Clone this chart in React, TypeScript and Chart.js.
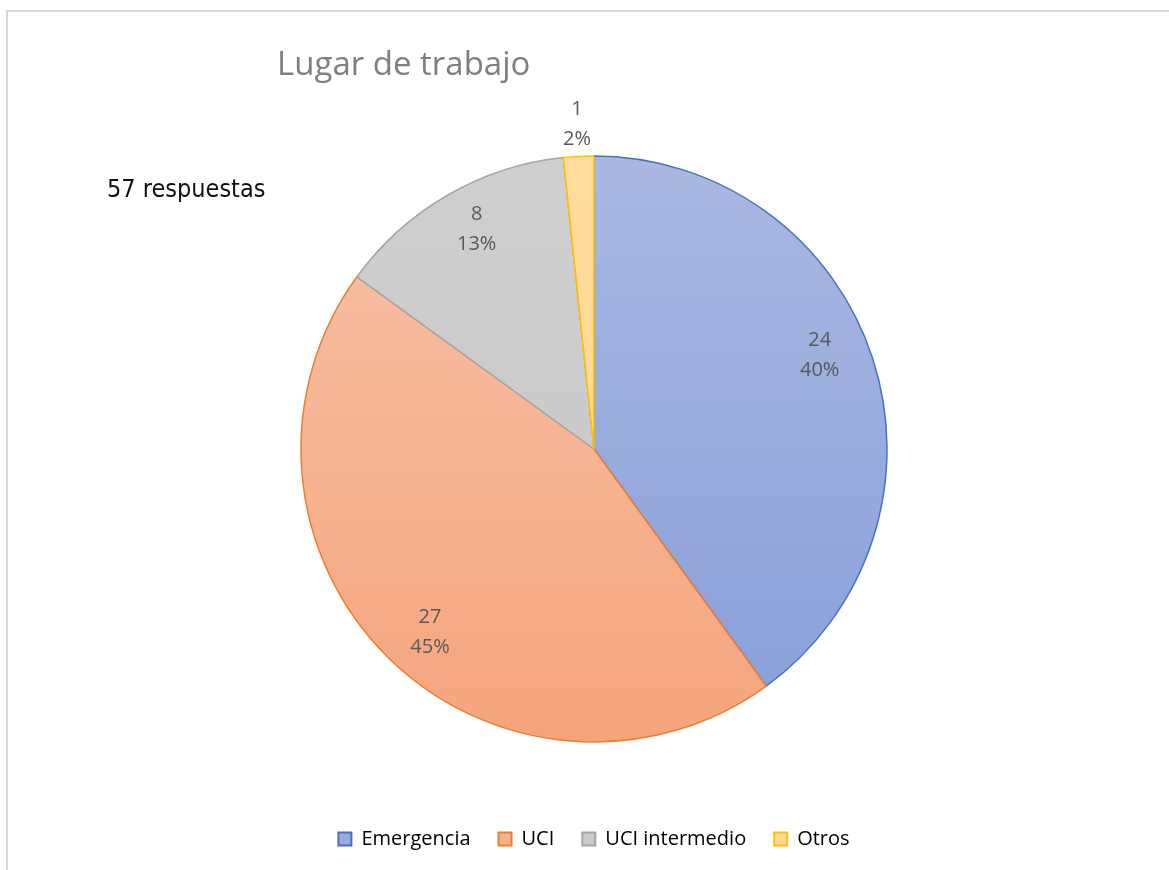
import React, { useEffect, useRef } from "react";
import { Chart, registerables } from "chart.js";

Chart.register(...registerables);

const categories = ["Emergencia", "UCI", "UCI intermedio", "Otros"];
const counts = [24, 27, 8, 1];
const percentLabels = ["40%", "45%", "13%", "2%"];
const chartTitle = "Lugar de trabajo";
const subtitle = "57 respuestas";

const topColors = ["#aab8e1", "#f8c2aa", "#cfcfcf", "#ffdc9c"];
const bottomColors = ["#889fda", "#f5a57c", "#c6c6c6", "#ffd68a"];
const solidColors = ["#9aabdd", "#f6b393", "#cbcbcb", "#ffd993"];
const borderColors = ["#4472c4", "#ed7d31", "#a5a5a5", "#ffc000"];

const labelNudges = [
  [-7, -18],
  [9, 10],
  [5, -8],
  [0, 0],
];

const labelPlugin = {
  id: "sliceLabels",
  afterDatasetsDraw(chart: any) {
    const ctx = chart.ctx;
    const meta = chart.getDatasetMeta(0);
    const total = counts.reduce((a, b) => a + b, 0);
    ctx.save();
    ctx.fillStyle = "#595959";
    ctx.font = "20px 'Open Sans', 'Noto Sans', sans-serif";
    ctx.textAlign = "center";
    ctx.textBaseline = "middle";
    meta.data.forEach((arc: any, i: number) => {
      const p = arc.getProps(["x", "y", "startAngle", "endAngle", "outerRadius"], true);
      const mid = (p.startAngle + p.endAngle) / 2;
      const small = counts[i] / total < 0.05;
      const dist = small ? p.outerRadius + 32 : p.outerRadius * 0.835;
      const cx = p.x + Math.cos(mid) * dist + labelNudges[i][0];
      const cy = p.y + Math.sin(mid) * dist + labelNudges[i][1];
      ctx.fillText(String(counts[i]), cx, cy - 15);
      ctx.fillText(percentLabels[i], cx, cy + 15);
    });
    ctx.restore();
  },
};

export default function App() {
  const ref = useRef<HTMLCanvasElement | null>(null);
  useEffect(() => {
    if (!ref.current) return;
    const chart = new Chart(ref.current, {
      type: "pie",
      data: {
        labels: categories,
        datasets: [
          {
            data: counts,
            radius: 293,
            backgroundColor: (c: any) => {
              const ch = c.chart;
              const area = ch.chartArea;
              const i = c.dataIndex ?? 0;
              if (!area) return solidColors[i];
              const cy = (area.top + area.bottom) / 2;
              const g = ch.ctx.createLinearGradient(0, cy - 293, 0, cy + 293);
              g.addColorStop(0, topColors[i]);
              g.addColorStop(1, bottomColors[i]);
              return g;
            },
            borderColor: borderColors,
            borderWidth: 1.5,
          },
        ],
      },
      options: {
        responsive: false,
        animation: false,
        layout: { padding: { left: 19, right: 0, top: 97, bottom: 11 } },
        plugins: {
          title: { display: false },
          tooltip: { enabled: false },
          legend: {
            position: "bottom",
            labels: {
              boxWidth: 13,
              boxHeight: 13,
              padding: 28,
              color: "#595959",
              font: { size: 20, family: "'Open Sans', 'Noto Sans', sans-serif" },
              generateLabels: () =>
                categories.map((name, i) => ({
                  text: name,
                  fillStyle: solidColors[i],
                  strokeStyle: borderColors[i],
                  lineWidth: 2,
                  hidden: false,
                  index: i,
                  datasetIndex: 0,
                })),
            },
          },
        },
      },
      plugins: [labelPlugin],
    });
    return () => chart.destroy();
  }, []);

  return (
    <div style={{ position: "fixed", left: 0, top: 0, width: 1169, height: 870, background: "#fff", overflow: "hidden" }}>
      <div
        style={{
          position: "absolute",
          left: 6,
          top: 10,
          width: 1200,
          height: 900,
          border: "2px solid #d9d9d9",
          boxSizing: "border-box",
        }}
      />
      <canvas ref={ref} width={1169} height={870} style={{ position: "absolute", left: 0, top: 0 }} />
      <div
        style={{
          position: "absolute",
          left: 277,
          top: 39,
          fontFamily: "'Open Sans', 'Noto Sans', sans-serif",
          fontSize: 33,
          color: "#7f7f7f",
          lineHeight: "48px",
          whiteSpace: "nowrap",
        }}
      >
        {chartTitle}
      </div>
      <div
        style={{
          position: "absolute",
          left: 107,
          top: 171,
          fontFamily: "'DejaVu Sans Condensed', 'DejaVu Sans', sans-serif",
          fontStretch: "condensed",
          fontSize: 25,
          color: "#111",
          lineHeight: "36px",
          whiteSpace: "nowrap",
        }}
      >
        {subtitle}
      </div>
    </div>
  );
}
